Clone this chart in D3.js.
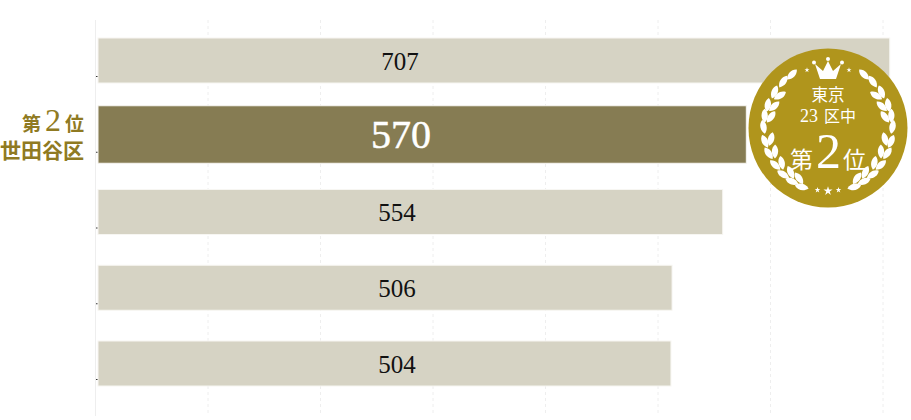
<!DOCTYPE html>
<html>
<head>
<meta charset="utf-8">
<script src="https://cdn.jsdelivr.net/npm/d3@7"></script>
<style>
  html, body { margin: 0; padding: 0; background: #fff; }
  svg { display: block; }
</style>
</head>
<body>
<svg id="chart"></svg>
<script>
const ranks = [1, 2, 3, 4, 5];
const labels = ['707', '570', '554', '506', '504'];
// bar lengths as read against the gridlines, they run a bit longer than the printed labels
const barValues = [706, 578.5, 557.5, 512.5, 511.5];
const gridTicks = [100, 200, 300, 400, 500, 600, 700];
const highlightRank = 2;
const rankLabel = ['第', '2', '位'];
const wardName = '世田谷区';
const badgeTop = '東京';
const badgeMiddle = ['23', '区中'];
const badgeBottom = ['第', '2', '位'];

const w = 911;
const h = 420;
const serif = '"Liberation Serif", serif';
const cjk = '"Noto Sans CJK JP", sans-serif';

const svg = d3.select('#chart').attr('width', w).attr('height', h);

const x = d3.scaleLinear().domain([0, 700]).range([95.5, 883]);
const y = d3.scalePoint().domain(ranks).range([76, 379]);

// grid
svg.append('g')
  .selectAll('line')
  .data(gridTicks)
  .enter()
  .append('line')
  .attr('x1', d => x(d))
  .attr('x2', d => x(d))
  .attr('y1', 20)
  .attr('y2', 416)
  .attr('stroke', '#eeeeee')
  .attr('stroke-width', 1)
  .attr('stroke-dasharray', '3,3');

// y axis, no labels
const yAxis = d3.axisLeft(y).tickSize(2).tickFormat('');
const yG = svg.append('g')
  .attr('transform', `translate(${x(0)},0)`)
  .call(yAxis);
yG.select('.domain').remove();
yG.selectAll('.tick line')
  .attr('x1', 0)
  .attr('x2', 2.5)
  .attr('stroke', '#333');

svg.append('line')
  .attr('x1', x(0))
  .attr('x2', x(0))
  .attr('y1', 20)
  .attr('y2', 416)
  .attr('stroke', '#eeeeee');

// bars
const isHi = d => d === highlightRank;
svg.selectAll('.bar')
  .data(ranks)
  .enter()
  .append('rect')
  .attr('class', 'bar')
  .attr('x', 98)
  .attr('y', d => y(d) - (isHi(d) ? 46 : 38))
  .attr('width', (d, i) => x(barValues[i]) - 98)
  .attr('height', d => isHi(d) ? 57.5 : 45)
  .attr('fill', d => isHi(d) ? '#867c53' : '#d6d3c4')
  .attr('stroke', '#f7f6f2')
  .attr('stroke-width', 1);

svg.selectAll('.val')
  .data(ranks)
  .enter()
  .append('text')
  .attr('class', 'val')
  .attr('x', d => d === 1 ? 400 : isHi(d) ? 401 : 397)
  .attr('y', d => y(d) - (isHi(d) ? 17.5 : 15))
  .attr('dy', '0.35em')
  .attr('text-anchor', 'middle')
  .attr('font-family', serif)
  .attr('font-size', d => isHi(d) ? 40 : 25)
  .attr('fill', d => isHi(d) ? '#fff' : '#111')
  .attr('stroke', d => isHi(d) ? '#fff' : 'none')
  .attr('stroke-width', 0.5)
  .text((d, i) => labels[i]);

// left label for the highlighted ward
const gold = '#8f7a22';
const leftText = svg.append('text')
  .attr('x', 84)
  .attr('y', 131)
  .attr('text-anchor', 'end')
  .attr('font-family', cjk)
  .attr('font-weight', 700)
  .attr('font-size', 19)
  .attr('fill', gold);
leftText.append('tspan').text(rankLabel[0]);
leftText.append('tspan')
  .attr('font-family', serif)
  .attr('font-weight', 400)
  .attr('font-size', 32)
  .attr('dx', 4)
  .text(rankLabel[1]);
leftText.append('tspan').attr('dx', 4).text(rankLabel[2]);

svg.append('text')
  .attr('x', 84)
  .attr('y', 158)
  .attr('text-anchor', 'end')
  .attr('font-family', cjk)
  .attr('font-weight', 700)
  .attr('font-size', 21)
  .attr('fill', gold)
  .text(wardName);

// badge
const cx = 828;
const cy = 128;
const badge = svg.append('g').attr('transform', `translate(${cx},${cy})`);
badge.append('circle').attr('r', 79.5).attr('fill', '#b0951c');

// laurel leaves on the right side, mirrored for the left. angle is clockwise from the top
const outerLeaves = [34, 44, 56, 69, 79, 89, 102, 113, 125, 136, 146, 156];
const innerLeaves = [56, 68, 79, 101, 114, 127, 140, 150];
const leaf = 'M0,-7C4.2,-3.5,4.2,3,0,7C-4.2,3,-4.2,-3.5,0,-7Z';

const drawLeaves = (g, angles, r, tilt) => {
  g.append('g')
    .selectAll('path')
    .data(angles)
    .enter()
    .append('path')
    .attr('d', leaf)
    .attr('fill', '#fff')
    .attr('transform', a => {
      const t = a * Math.PI / 180;
      return `translate(${r * Math.sin(t)},${-r * Math.cos(t)}) rotate(${a - 90 + tilt})`;
    });
};

[1, -1].forEach(side => {
  const g = badge.append('g').attr('transform', `scale(${side},1)`);
  drawLeaves(g, outerLeaves, 64.5, 12);
  drawLeaves(g, innerLeaves, 58, -25);
});

// crown
badge.append('path')
  .attr('d', 'M-8,-49L-13,-64L-5,-57L0,-67L5,-57L13,-64L8,-49Z')
  .attr('fill', '#fff');
[[-14, -65.5], [0, -69], [14, -65.5]].forEach(p => {
  badge.append('circle').attr('cx', p[0]).attr('cy', p[1]).attr('r', 2).attr('fill', '#fff');
});

const centerText = (txt, ty, size) => badge.append('text')
  .attr('y', ty)
  .attr('text-anchor', 'middle')
  .attr('font-family', cjk)
  .attr('font-size', size)
  .attr('fill', '#fff')
  .text(txt);

centerText(badgeTop, -27, 16.5);

const mid = centerText('', -6, 16);
mid.append('tspan').attr('font-family', serif).attr('font-size', 18).text(badgeMiddle[0]);
mid.append('tspan').attr('dx', 6).text(badgeMiddle[1]);

const bottom = centerText('', 40, 23);
bottom.append('tspan').text(badgeBottom[0]);
bottom.append('tspan').attr('font-family', serif).attr('font-size', 50).attr('dx', 3).text(badgeBottom[1]);
bottom.append('tspan').attr('dx', 2).text(badgeBottom[2]);

// small stars round the crown and along the bottom
const stars = [[-21, -58, 8], [21, -58, 8], [-10.5, 62, 10], [0, 63, 26], [10.5, 62, 10]];
badge.selectAll('.star')
  .data(stars)
  .enter()
  .append('path')
  .attr('class', 'star')
  .attr('d', d => d3.symbol().type(d3.symbolStar).size(d[2])())
  .attr('transform', d => `translate(${d[0]},${d[1]})`)
  .attr('fill', '#fff');
</script>
</body>
</html>
